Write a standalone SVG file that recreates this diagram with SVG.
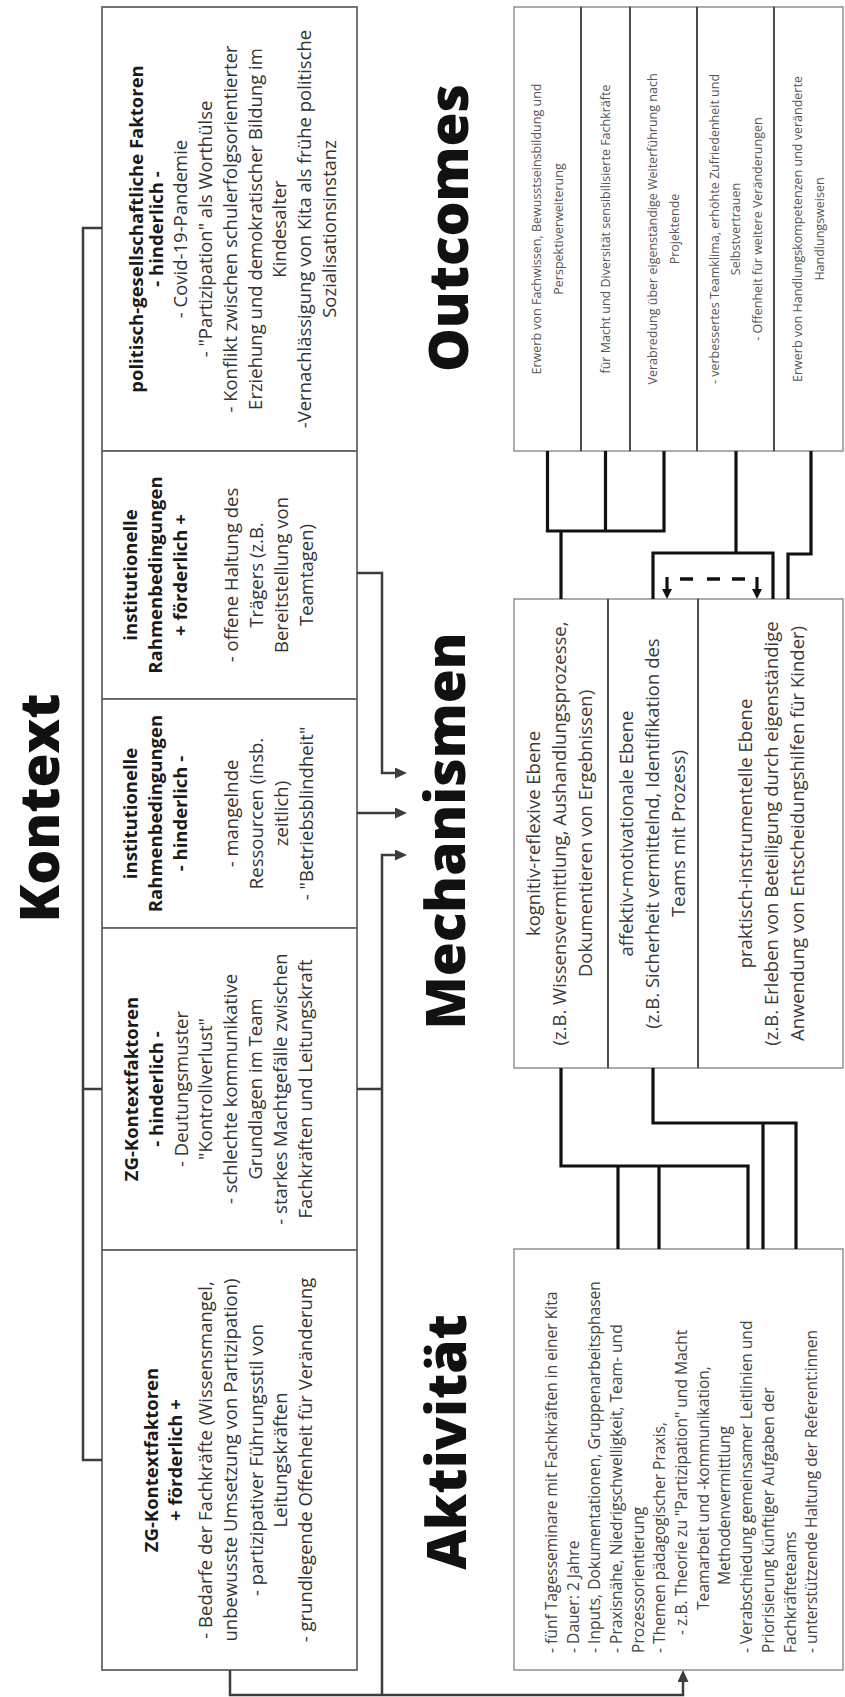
<svg xmlns="http://www.w3.org/2000/svg" width="845" height="1697" viewBox="0 0 845 1697">
<style>
text{font-family:"Open Sans","Noto Sans","DejaVu Sans",sans-serif}
.title{font-size:55px;font-weight:800;fill:#111;text-anchor:middle}
.kb{font-size:18.5px;fill:#333;text-anchor:middle}
.bold{font-weight:700;fill:#1a1a1a}
.mb{font-size:18.5px;fill:#3a3a3a;text-anchor:middle}
.ob{font-size:12.5px;fill:#555;text-anchor:middle}
.ab{font-size:15.6px;fill:#444;text-anchor:start}
.kbox{fill:#fff;stroke:#666;stroke-width:1.8}
.box{fill:#fff;stroke:#888;stroke-width:1.4}
.div{stroke:#333;stroke-width:1.5}
.gc{fill:none;stroke:#3d3d3d;stroke-width:2.5}
.bc{fill:none;stroke:#111;stroke-width:3.2}
.dash{fill:none;stroke:#111;stroke-width:3.5}
</style>
<defs>
<marker id="ag" viewBox="0 0 12 11" markerWidth="12" markerHeight="11" refX="8" refY="5.5" orient="auto" markerUnits="userSpaceOnUse"><path d="M0,0 L12,5.5 L0,11 z" fill="#3d3d3d"/></marker>
<marker id="ab" viewBox="0 0 10 10" markerWidth="10" markerHeight="10" refX="6" refY="5" orient="auto" markerUnits="userSpaceOnUse"><path d="M0,0 L10,5 L0,10 z" fill="#111"/></marker>
</defs>

<rect width="845" height="1697" fill="#fff"/>

<!-- Titles -->
<g id="title-kontext" transform="translate(0,808) rotate(-90)"><text class="title" y="59">Kontext</text></g>
<g id="title-mechanismen" transform="translate(0,831) rotate(-90)"><text class="title" y="465">Mechanismen</text></g>
<g id="title-outcomes" transform="translate(0,228) rotate(-90)"><text class="title" y="468">Outcomes</text></g>
<g id="title-aktivitaet" transform="translate(0,1442) rotate(-90)"><text class="title" y="466">Aktivität</text></g>

<!-- Kontext nodes -->
<g id="k-politisch">
<rect class="kbox" x="102" y="7" width="255" height="444"/>
<g transform="translate(0,229) rotate(-90)">
<text class="kb bold" y="143">politisch-gesellschaftliche Faktoren</text>
<text class="kb bold" y="163">- hinderlich -</text>
<text class="kb" y="187">- Covid-19-Pandemie</text>
<text class="kb" y="212">- "Partizipation" als Worthülse</text>
<text class="kb" y="237">- Konflikt zwischen schulerfolgsorientierter</text>
<text class="kb" y="262">Erziehung und demokratischer Bildung im</text>
<text class="kb" y="286">Kindesalter</text>
<text class="kb" y="311">-Vernachlässigung von Kita als frühe politische</text>
<text class="kb" y="336">Sozialisationsinstanz</text>
</g>
</g>
<g id="k-inst-plus">
<rect class="kbox" x="102" y="451" width="255" height="248"/>
<g transform="translate(0,575) rotate(-90)">
<text class="kb bold" y="137">institutionelle</text>
<text class="kb bold" y="162">Rahmenbedingungen</text>
<text class="kb bold" y="187">+ förderlich +</text>
<text class="kb" y="238">- offene Haltung des</text>
<text class="kb" y="263">Trägers (z.B.</text>
<text class="kb" y="288">Bereitstellung von</text>
<text class="kb" y="313">Teamtagen)</text>
</g>
</g>
<g id="k-inst-minus">
<rect class="kbox" x="102" y="699" width="255" height="229"/>
<g transform="translate(0,813.5) rotate(-90)">
<text class="kb bold" y="137">institutionelle</text>
<text class="kb bold" y="162">Rahmenbedingungen</text>
<text class="kb bold" y="187">- hinderlich -</text>
<text class="kb" y="238">- mangelnde</text>
<text class="kb" y="263">Ressourcen (insb.</text>
<text class="kb" y="288">zeitlich)</text>
<text class="kb" y="313">- "Betriebsblindheit"</text>
</g>
</g>
<g id="k-zg-minus">
<rect class="kbox" x="102" y="928" width="255" height="322"/>
<g transform="translate(0,1089) rotate(-90)">
<text class="kb bold" y="138">ZG-Kontextfaktoren</text>
<text class="kb bold" y="163">- hinderlich -</text>
<text class="kb" y="188">- Deutungsmuster</text>
<text class="kb" y="212">"Kontrollverlust"</text>
<text class="kb" y="237">- schlechte kommunikative</text>
<text class="kb" y="262">Grundlagen im Team</text>
<text class="kb" y="287">- starkes Machtgefälle zwischen</text>
<text class="kb" y="312">Fachkräften und Leitungskraft</text>
</g>
</g>
<g id="k-zg-plus">
<rect class="kbox" x="102" y="1250" width="255" height="420"/>
<g transform="translate(0,1460) rotate(-90)">
<text class="kb bold" y="158">ZG-Kontextfaktoren</text>
<text class="kb bold" y="182">+ förderlich +</text>
<text class="kb" y="212">- Bedarfe der Fachkräfte (Wissensmangel,</text>
<text class="kb" y="237">unbewusste Umsetzung von Partizipation)</text>
<text class="kb" y="263">- partizipativer Führungsstil von</text>
<text class="kb" y="287">Leitungskräften</text>
<text class="kb" y="312">- grundlegende Offenheit für Veränderung</text>
</g>
</g>

<!-- Outcomes nodes -->
<g id="outcomes">
<g id="o-1"><rect class="box" x="514" y="7" width="67" height="444"/>
<g transform="translate(0,229) rotate(-90)"><text class="ob" y="541">Erwerb von Fachwissen, Bewusstseinsbildung und</text><text class="ob" y="563">Perspektiverweiterung</text></g></g>
<g id="o-2"><rect class="box" x="581" y="7" width="49" height="444"/>
<g transform="translate(0,229) rotate(-90)"><text class="ob" y="610">für Macht und Diversität sensibilisierte Fachkräfte</text></g></g>
<g id="o-3"><rect class="box" x="630" y="7" width="67" height="444"/>
<g transform="translate(0,229) rotate(-90)"><text class="ob" y="657">Verabredung über eigenständige Weiterführung nach</text><text class="ob" y="679">Projektende</text></g></g>
<g id="o-4"><rect class="box" x="697" y="7" width="77" height="444"/>
<g transform="translate(0,229) rotate(-90)"><text class="ob" y="718.5">- verbessertes Teamklima, erhöhte Zufriedenheit und</text><text class="ob" y="740">Selbstvertrauen</text><text class="ob" y="761.5">- Offenheit für weitere Veränderungen</text></g></g>
<g id="o-5"><rect class="box" x="774" y="7" width="69" height="444"/>
<g transform="translate(0,229) rotate(-90)"><text class="ob" y="802">Erwerb von Handlungskompetenzen und veränderte</text><text class="ob" y="824">Handlungsweisen</text></g></g>
<path class="div" d="M581,7 V451 M630,7 V451 M697,7 V451 M774,7 V451"/>
</g>

<!-- Mechanismen nodes -->
<g id="mechanismen">
<g id="m-kognitiv"><rect class="box" x="514" y="599" width="94" height="469"/>
<g transform="translate(0,833.5) rotate(-90)"><text class="mb" y="540">kognitiv-reflexive Ebene</text><text class="mb" y="566">(z.B. Wissensvermittlung, Aushandlungsprozesse,</text><text class="mb" y="592">Dokumentieren von Ergebnissen)</text></g></g>
<g id="m-affektiv"><rect class="box" x="608" y="599" width="90" height="469"/>
<g transform="translate(0,833.5) rotate(-90)"><text class="mb" y="633">affektiv-motivationale Ebene</text><text class="mb" y="659">(z.B. Sicherheit vermittelnd, Identifikation des</text><text class="mb" y="685">Teams mit Prozess)</text></g></g>
<g id="m-praktisch"><rect class="box" x="698" y="599" width="145" height="469"/>
<g transform="translate(0,833.5) rotate(-90)"><text class="mb" y="752">praktisch-instrumentelle Ebene</text><text class="mb" y="778">(z.B. Erleben von Beteiligung durch eigenständige</text><text class="mb" y="804">Anwendung von Entscheidungshilfen für Kinder)</text></g></g>
<path class="div" d="M608,599 V1068 M698,599 V1068"/>
</g>

<!-- Aktivitaet node -->
<g id="aktivitaet">
<rect class="box" x="514" y="1249" width="329" height="421"/>
<g transform="translate(0,1653) rotate(-90)">
<text class="ab" y="556.8">- fünf Tagesseminare mit Fachkräften in einer Kita</text>
<text class="ab" y="578.5">- Dauer: 2 Jahre</text>
<text class="ab" y="600.2">- Inputs, Dokumentationen, Gruppenarbeitsphasen</text>
<text class="ab" y="621.9">- Praxisnähe, Niedrigschwelligkeit, Team- und</text>
<text class="ab" y="643.6">Prozessorientierung</text>
<text class="ab" y="665.3">- Themen pädagogischer Praxis,</text>
<text class="ab" x="18" y="687">- z.B. Theorie zu "Partizipation" und Macht</text>
<text class="ab" x="43" y="708.7">Teamarbeit und -kommunikation,</text>
<text class="ab" x="68" y="730.4">Methodenvermittlung</text>
<text class="ab" y="752.1">- Verabschiedung gemeinsamer Leitlinien und</text>
<text class="ab" y="773.8">Priorisierung künftiger Aufgaben der</text>
<text class="ab" y="795.5">Fachkräfteteams</text>
<text class="ab" y="817.2">- unterstützende Haltung der Referent:innen</text>
</g>
</g>

<!-- Connectors -->
<g id="connectors">
<path class="gc" d="M102,228 H83 V1460 H102 M83,1089 H102"/>
<path class="gc" d="M357,573 H382 V773 H403" marker-end="url(#ag)"/>
<path class="gc" d="M357,813 H403" marker-end="url(#ag)"/>
<path class="gc" d="M382,1695 V855 H403" marker-end="url(#ag)"/>
<path class="gc" d="M357,1089 H382"/>
<path class="gc" d="M230,1670 V1695 H683 V1674" marker-end="url(#ag)"/>

<path class="bc" d="M547.5,451 V531 H664 V451 M605.5,451 V531 M561,531 V599"/>
<path class="bc" d="M736,451 V553 M653,599 V553 H773 V599"/>
<path class="bc" d="M811,451 V554 H788 V599"/>
<path class="bc" d="M561,1068 V1166 H748 V1249 M618,1166 V1249 M659,1166 V1249"/>
<path class="bc" d="M653,1068 V1123 H796 V1249 M763,1123 V1249"/>
<path class="dash" d="M680,579 H693 M707,579 H720 M732,579 H745"/>
<path class="bc" d="M667,577 V595" marker-end="url(#ab)"/>
<path class="bc" d="M757,577 V595" marker-end="url(#ab)"/>
</g>
</svg>
